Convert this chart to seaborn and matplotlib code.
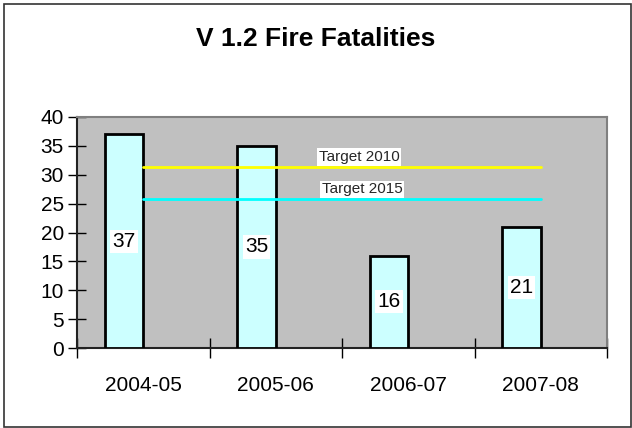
import matplotlib
matplotlib.use("Agg")
import matplotlib.pyplot as plt
import matplotlib.patches as mpatches
from matplotlib.ticker import FixedLocator
import seaborn as sns
import pandas as pd

years = ['2004-05', '2005-06', '2006-07', '2007-08']
fatalities = [37, 35, 16, 21]
target_2010 = [31.4, 31.4, 31.4, 31.4]
target_2015 = [25.8, 25.8, 25.8, 25.8]
y_ticks = [0, 5, 10, 15, 20, 25, 30, 35, 40]

sns.set_theme(style="white")
plt.rcParams['font.family'] = ['Liberation Sans', 'DejaVu Sans']

fig = plt.figure(figsize=(6.32, 4.28), dpi=100)
ax = fig.add_axes([77/632, 1-348/428, (607-77)/632, (348-117)/428])
ax.set_facecolor('#C0C0C0')

df = pd.DataFrame({
    'Year': years * 2,
    'Value': fatalities + [float('nan')] * 4,
    'Series': ['Fatalities'] * 4 + ['Hidden'] * 4,
})
sns.barplot(data=df, x='Year', y='Value', hue='Series',
            hue_order=['Fatalities', 'Hidden'], order=years,
            palette={'Fatalities': '#CCFFFF', 'Hidden': '#CCFFFF'},
            saturation=1, width=0.58, edgecolor='black', linewidth=2.0,
            legend=False, ax=ax, zorder=3)

for c in ax.containers:
    ax.bar_label(c, label_type='center', fontsize=15, color='black',
                 bbox=dict(facecolor='white', edgecolor='none', pad=1.5))

xs = list(range(len(years)))
sns.lineplot(x=xs, y=target_2010, color='#FFFF00', linewidth=2.0, ax=ax, zorder=4)
sns.lineplot(x=xs, y=target_2015, color='#00FFFF', linewidth=2.0, ax=ax, zorder=4)

ax.annotate('Target 2010', xy=(1.63, target_2010[0]), xytext=(0, 2),
            textcoords='offset points', ha='center', va='bottom', fontsize=11,
            bbox=dict(facecolor='white', edgecolor='none', pad=1.2), zorder=5)
ax.annotate('Target 2015', xy=(1.65, target_2015[0]), xytext=(0, 2),
            textcoords='offset points', ha='center', va='bottom', fontsize=11,
            bbox=dict(facecolor='white', edgecolor='none', pad=1.2), zorder=5)

ax.set_xlim(-0.5, len(years) - 0.5)
ax.set_ylim(0, 40)
ax.set_yticks(y_ticks)
ax.set_yticklabels([str(v) for v in y_ticks])
ax.set_xticks(xs)
ax.set_xticklabels(years)
ax.xaxis.set_minor_locator(FixedLocator([i - 0.5 for i in range(len(years) + 1)]))
ax.set_xlabel('')
ax.set_ylabel('')

ax.tick_params(axis='y', which='major', direction='inout', length=13, width=1,
               color='black', labelsize=15, pad=3, left=True, labelcolor='black')
ax.tick_params(axis='x', which='major', length=0, labelsize=15, pad=20,
               labelcolor='black')
ax.tick_params(axis='x', which='minor', direction='inout', length=14, width=1,
               color='black', bottom=True)

for s in ['top', 'right']:
    ax.spines[s].set_color('#808080')
    ax.spines[s].set_linewidth(1.5)
for s in ['left', 'bottom']:
    ax.spines[s].set_color('#222222')
    ax.spines[s].set_linewidth(1.5)

fig.text(316/632, 1-39/428, 'V 1.2 Fire Fatalities', ha='center', va='center',
         fontsize=19, fontweight='bold', color='black')

fig.patches.append(mpatches.Rectangle((4/632, 1/428), 626.5/632, 423/428,
                                      transform=fig.transFigure, fill=False,
                                      edgecolor='#333333', linewidth=1.2))

fig.savefig('out.png', dpi=100)
